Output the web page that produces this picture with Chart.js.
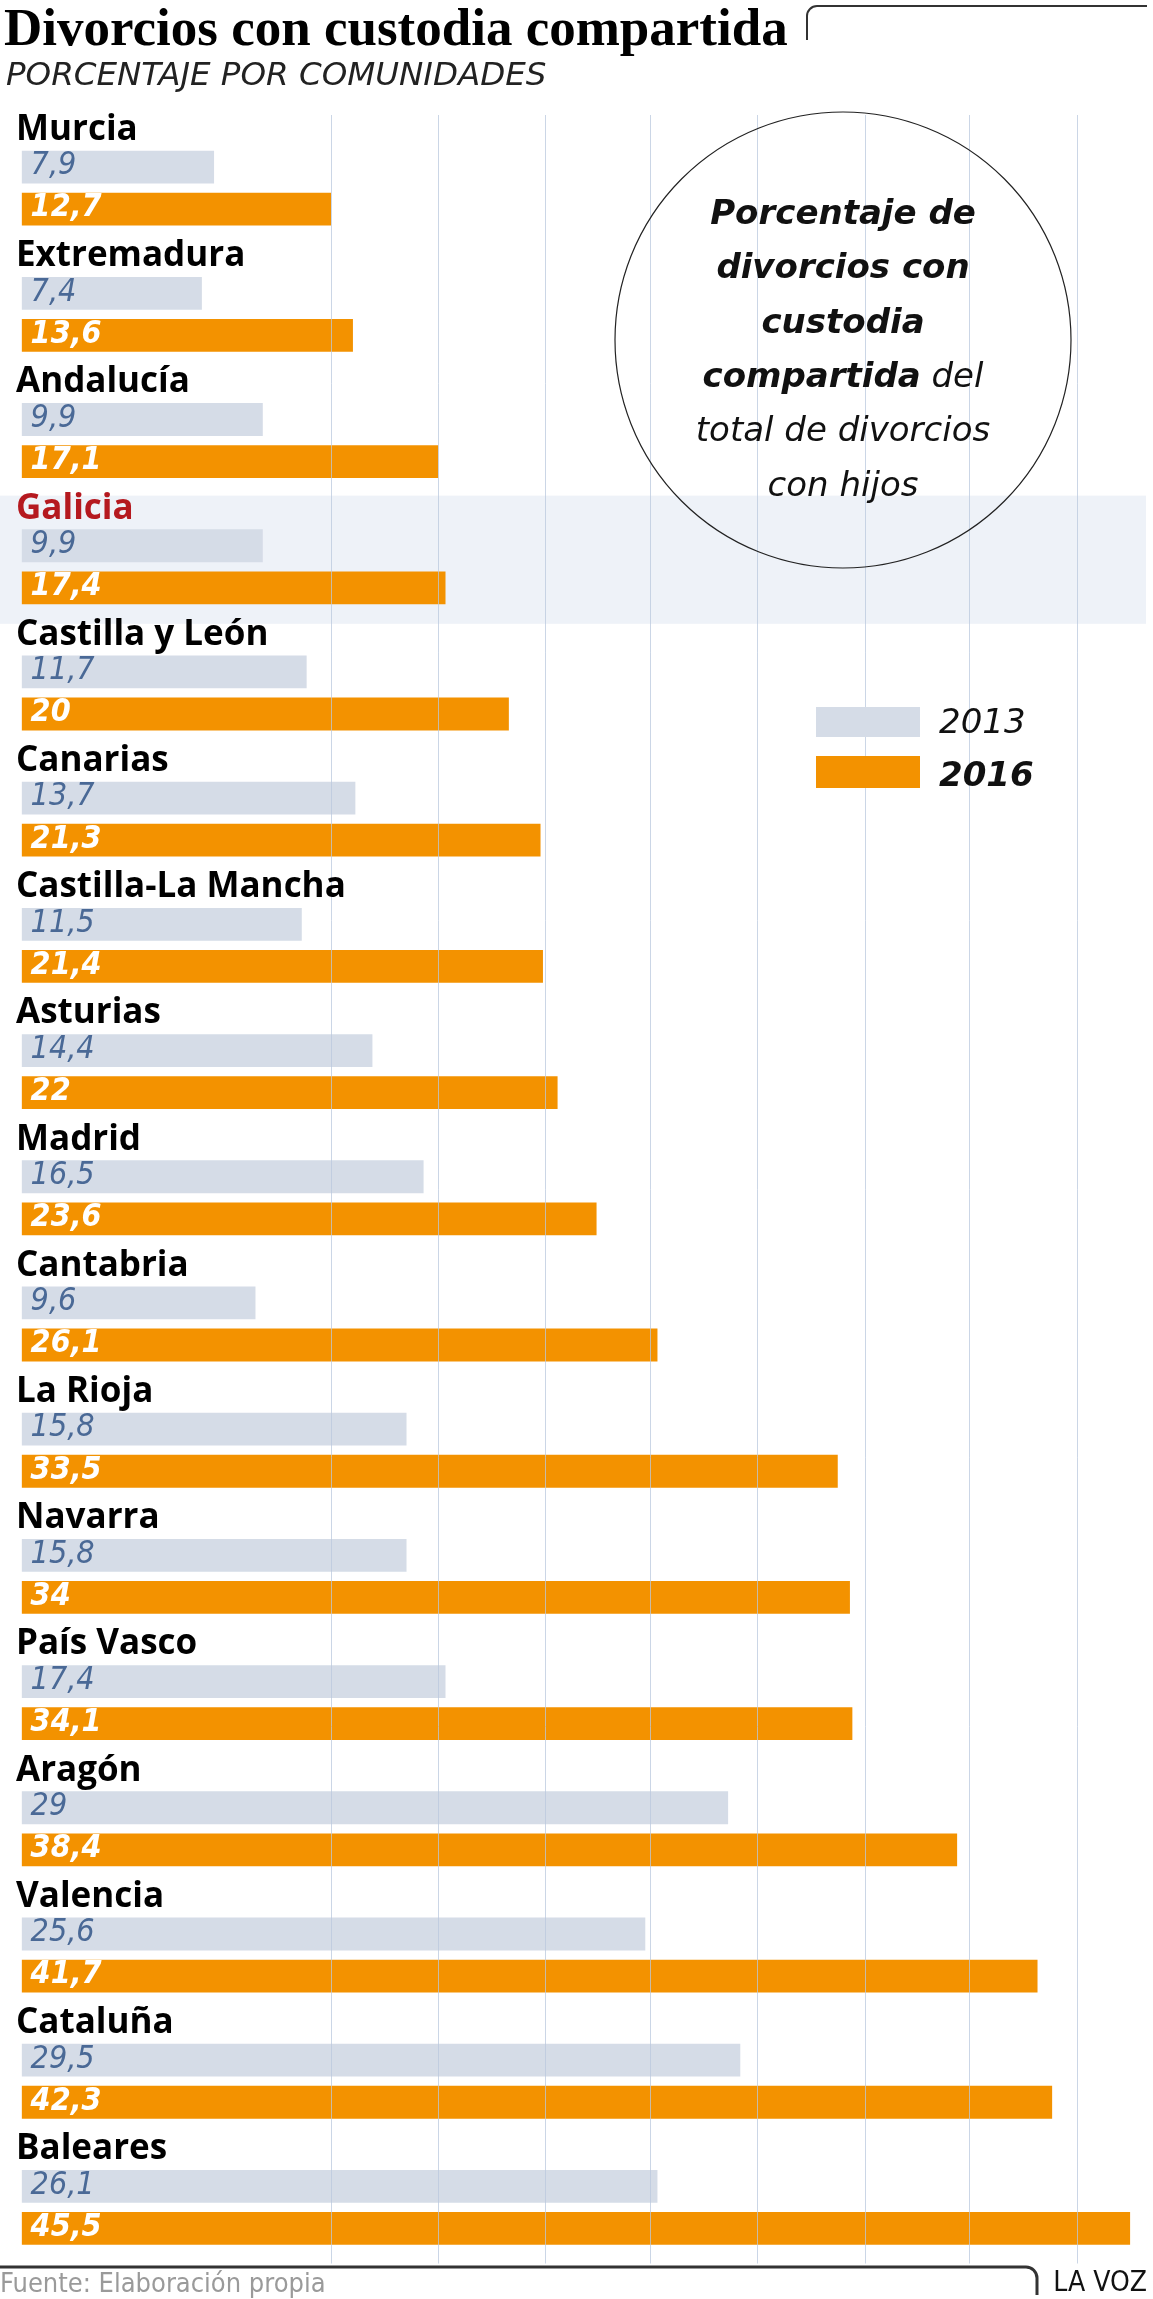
<!DOCTYPE html>
<html>
<head>
<meta charset="utf-8">
<script src="https://cdn.jsdelivr.net/npm/chart.js@4.4.1/dist/chart.umd.min.js"></script>
<style>
html,body{margin:0;padding:0;background:#fff;}
#wrap{position:relative;width:1153px;height:2299px;overflow:hidden;}
#c{position:absolute;left:0;top:0;}
.t{position:absolute;white-space:nowrap;margin:0;}
#title{left:4px;top:1px;font:bold 53px/53px "Liberation Serif","DejaVu Serif",serif;color:#000;}
#subtitle{left:6px;top:58px;font:italic 300 32.5px/32.5px "DejaVu Sans",sans-serif;color:#222;}
#source{left:0px;top:2269px;font:300 27px/27px "DejaVu Sans Condensed","DejaVu Sans",sans-serif;color:#9a9a9a;}
#brand{right:6px;top:2268px;font:400 28px/28px "DejaVu Sans Condensed","DejaVu Sans",sans-serif;color:#111;}
</style>
</head>
<body>
<div id="wrap">
  <canvas id="c" width="1153" height="2299"></canvas>
  <div class="t" id="title">Divorcios con custodia compartida</div>
  <div class="t" id="subtitle">PORCENTAJE POR COMUNIDADES</div>
  <div class="t" id="source">Fuente: Elaboración propia</div>
  <div class="t" id="brand">LA VOZ</div>
</div>
<script>
// ---------- DATA ----------
const categories = ["Murcia","Extremadura","Andalucía","Galicia","Castilla y León","Canarias",
  "Castilla-La Mancha","Asturias","Madrid","Cantabria","La Rioja","Navarra","País Vasco",
  "Aragón","Valencia","Cataluña","Baleares"];
const values2013 = [7.9,7.4,9.9,9.9,11.7,13.7,11.5,14.4,16.5,9.6,15.8,15.8,17.4,29,25.6,29.5,26.1];
const values2016 = [12.7,13.6,17.1,17.4,20,21.3,21.4,22,23.6,26.1,33.5,34,34.1,38.4,41.7,42.3,45.5];
const seriesNames = ["2013","2016"];
const highlighted = "Galicia";
const gridValues = [12.7,17.1,21.5,25.8,30.2,34.6,38.9,43.3];
const circleLines = [
  [["b","Porcentaje de"]],
  [["b","divorcios con"]],
  [["b","custodia"]],
  [["b","compartida"],["l"," del"]],
  [["l","total de divorcios"]],
  [["l","con hijos"]]
];

// ---------- STYLE ----------
const GREY = "#d5dce7", ORANGE = "#f39200", RED = "#b5191f";
const slots = [];
categories.forEach(c => { slots.push(c + "|label", c + "|2013", c + "|2016"); });
const fmt = v => String(v).replace(".", ",");

const decorPlugin = {
  id: "decor",
  beforeDatasetsDraw(chart) {
    const ctx = chart.ctx, y = chart.scales.y;
    const h = y.height / slots.length;
    const t = y.getPixelForValue(slots.indexOf(highlighted + "|label")) - h / 2 + 13;
    const b = y.getPixelForValue(slots.indexOf(highlighted + "|2016")) + h / 2 + 15;
    ctx.save();
    ctx.fillStyle = "#eef2f8";
    ctx.fillRect(0, t, 1146, b - t);
    ctx.restore();
  },
  afterDatasetsDraw(chart) {
    const ctx = chart.ctx, x = chart.scales.x, y = chart.scales.y, ca = chart.chartArea;
    ctx.save();
    // vertical guide lines
    ctx.strokeStyle = "rgba(185,200,222,0.75)";
    ctx.lineWidth = 1;
    gridValues.forEach(v => {
      const px = Math.round(x.getPixelForValue(v)) + 0.5;
      ctx.beginPath(); ctx.moveTo(px, ca.top + 11); ctx.lineTo(px, ca.bottom + 14); ctx.stroke();
    });
    // category labels
    ctx.textBaseline = "middle";
    ctx.textAlign = "left";
    ctx.font = 'bold 35px "Open Sans", "DejaVu Sans", sans-serif';
    categories.forEach(c => {
      const py = y.getPixelForValue(slots.indexOf(c + "|label")) + 5;
      ctx.fillStyle = c === highlighted ? RED : "#000";
      ctx.fillText(c, 16, py);
    });
    // value labels inside bars
    chart.data.datasets.forEach((ds, di) => {
      const meta = chart.getDatasetMeta(di);
      ctx.font = di === 0
        ? 'italic 300 32px "DejaVu Sans Condensed", "DejaVu Sans", sans-serif'
        : 'italic bold 32px "DejaVu Sans Condensed", "DejaVu Sans", sans-serif';
      ctx.fillStyle = di === 0 ? "#4a6996" : "#fff";
      meta.data.forEach((bar, i) => {
        ctx.fillText(fmt(ds.data[i].x), bar.base + 9, bar.y - 1);
      });
    });
    ctx.restore();
  },
  afterDraw(chart) {
    const ctx = chart.ctx;
    ctx.save();
    // circle annotation
    ctx.strokeStyle = "#222";
    ctx.lineWidth = 1.2;
    ctx.beginPath(); ctx.arc(843, 340, 228, 0, Math.PI * 2); ctx.stroke();
    const fb = 'italic bold 34px "DejaVu Sans", sans-serif';
    const fl = 'italic 300 34px "DejaVu Sans", sans-serif';
    ctx.fillStyle = "#111";
    ctx.textBaseline = "alphabetic";
    ctx.textAlign = "left";
    circleLines.forEach((line, k) => {
      let w = 0;
      line.forEach(([s, txt]) => { ctx.font = s === "b" ? fb : fl; w += ctx.measureText(txt).width; });
      let cx = 843 - w / 2;
      const by = 224 + k * 54.3;
      line.forEach(([s, txt]) => {
        ctx.font = s === "b" ? fb : fl;
        ctx.fillText(txt, cx, by);
        cx += ctx.measureText(txt).width;
      });
    });
    // legend
    const dss = chart.data.datasets;
    ctx.fillStyle = dss[0].backgroundColor; ctx.fillRect(816, 707, 104, 30);
    ctx.fillStyle = dss[1].backgroundColor; ctx.fillRect(816, 756, 104, 32);
    ctx.fillStyle = "#111";
    ctx.font = fl; ctx.fillText(dss[0].label, 939, 733);
    ctx.font = fb; ctx.fillText(dss[1].label, 939, 786);
    // header bracket
    ctx.strokeStyle = "#333"; ctx.lineWidth = 2;
    ctx.beginPath(); ctx.moveTo(807, 40); ctx.lineTo(807, 16);
    ctx.arcTo(807, 6, 817, 6, 10); ctx.lineTo(1147, 6); ctx.stroke();
    // footer bracket
    ctx.lineWidth = 3;
    ctx.beginPath(); ctx.moveTo(0, 2267); ctx.lineTo(1026, 2267);
    ctx.arcTo(1037, 2267, 1037, 2278, 11); ctx.lineTo(1037, 2295); ctx.stroke();
    ctx.restore();
  }
};

new Chart(document.getElementById("c"), {
  type: "bar",
  data: {
    labels: slots,
    datasets: [
      { label: seriesNames[0], backgroundColor: GREY,
        data: categories.map((c, i) => ({ x: values2013[i], y: c + "|2013" })) },
      { label: seriesNames[1], backgroundColor: ORANGE,
        data: categories.map((c, i) => ({ x: values2016[i], y: c + "|2016" })) }
    ]
  },
  options: {
    indexAxis: "y",
    responsive: false,
    animation: false,
    devicePixelRatio: 1,
    layout: { padding: { left: 21.6, right: 0, top: 104, bottom: 49.5 } },
    datasets: { bar: { grouped: false, barPercentage: 0.78, categoryPercentage: 1, borderWidth: 0 } },
    scales: {
      x: { type: "linear", min: 0, max: 46.44, display: false },
      y: { type: "category", display: false }
    },
    plugins: { legend: { display: false }, tooltip: { enabled: false } }
  },
  plugins: [decorPlugin]
});
</script>
</body>
</html>
